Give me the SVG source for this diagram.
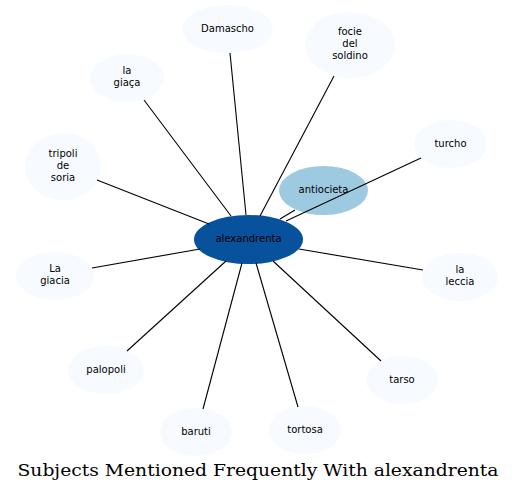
<svg xmlns="http://www.w3.org/2000/svg" width="516" height="493" viewBox="0 0 516 493">
<style>
.leaf{fill:#f7fbff;stroke:none}
.edge{stroke:#000;stroke-width:1.1;fill:none}
text{font-family:"DejaVu Sans",sans-serif;font-size:10px;text-anchor:middle;fill:#000}
.title{font-family:"DejaVu Serif",serif;font-size:16px}
</style>
<rect width="516" height="493" fill="#fff"/>
<g id="n-damascho"><ellipse class="leaf" cx="227.5" cy="29" rx="45.5" ry="24"/><text x="227.5" y="32">Damascho</text></g>
<g id="n-focie"><ellipse class="leaf" cx="350" cy="45" rx="45" ry="33"/><text x="350" y="35">focie</text><text x="350" y="47">del</text><text x="350" y="59">soldino</text></g>
<g id="n-lagiaca"><ellipse class="leaf" cx="127" cy="78" rx="37" ry="24"/><text x="127" y="74">la</text><text x="127" y="86">giaça</text></g>
<g id="n-turcho"><ellipse class="leaf" cx="450.5" cy="144" rx="36.5" ry="24"/><text x="450.5" y="147">turcho</text></g>
<g id="n-tripoli"><ellipse class="leaf" cx="63" cy="166.5" rx="38" ry="33.5"/><text x="63" y="157">tripoli</text><text x="63" y="169">de</text><text x="63" y="181">soria</text></g>
<g id="n-antiocieta"><ellipse cx="323.5" cy="190.5" rx="44.5" ry="24.5" fill="#9ecae1"/><text x="323.5" y="193">antiocieta</text></g>
<g id="n-alexandrenta"><ellipse cx="248.5" cy="239.5" rx="54.5" ry="24.5" fill="#08519c"/><text x="248.5" y="242">alexandrenta</text></g>
<g id="n-lagiacia"><ellipse class="leaf" cx="55" cy="276" rx="39" ry="24"/><text x="55" y="272">La</text><text x="55" y="284">giacia</text></g>
<g id="n-laleccia"><ellipse class="leaf" cx="460" cy="277" rx="38" ry="24"/><text x="460" y="273">la</text><text x="460" y="285">leccia</text></g>
<g id="n-palopoli"><ellipse class="leaf" cx="106" cy="370" rx="38" ry="24"/><text x="106" y="373">palopoli</text></g>
<g id="n-tarso"><ellipse class="leaf" cx="402" cy="380" rx="36" ry="24"/><text x="402" y="383">tarso</text></g>
<g id="n-baruti"><ellipse class="leaf" cx="196" cy="432" rx="36" ry="24"/><text x="196" y="435">baruti</text></g>
<g id="n-tortosa"><ellipse class="leaf" cx="305" cy="430" rx="36" ry="24"/><text x="305" y="433">tortosa</text></g>
<g id="connectors">
<line class="edge" x1="246" y1="215" x2="230" y2="53"/>
<line class="edge" x1="260" y1="216" x2="334" y2="76"/>
<line class="edge" x1="231" y1="216" x2="144" y2="100"/>
<line class="edge" x1="286" y1="221" x2="421" y2="158"/>
<line class="edge" x1="280" y1="219" x2="295" y2="210"/>
<line class="edge" x1="209" y1="224" x2="97" y2="180"/>
<line class="edge" x1="200" y1="249" x2="92" y2="268"/>
<line class="edge" x1="299" y1="249" x2="423" y2="270"/>
<line class="edge" x1="226" y1="261" x2="127" y2="351"/>
<line class="edge" x1="273" y1="261" x2="381" y2="361"/>
<line class="edge" x1="242" y1="263" x2="203" y2="409"/>
<line class="edge" x1="256" y1="263" x2="298" y2="407"/>
</g>
<text class="title" x="258" y="476" textLength="481" lengthAdjust="spacingAndGlyphs">Subjects Mentioned Frequently With alexandrenta</text>
</svg>
